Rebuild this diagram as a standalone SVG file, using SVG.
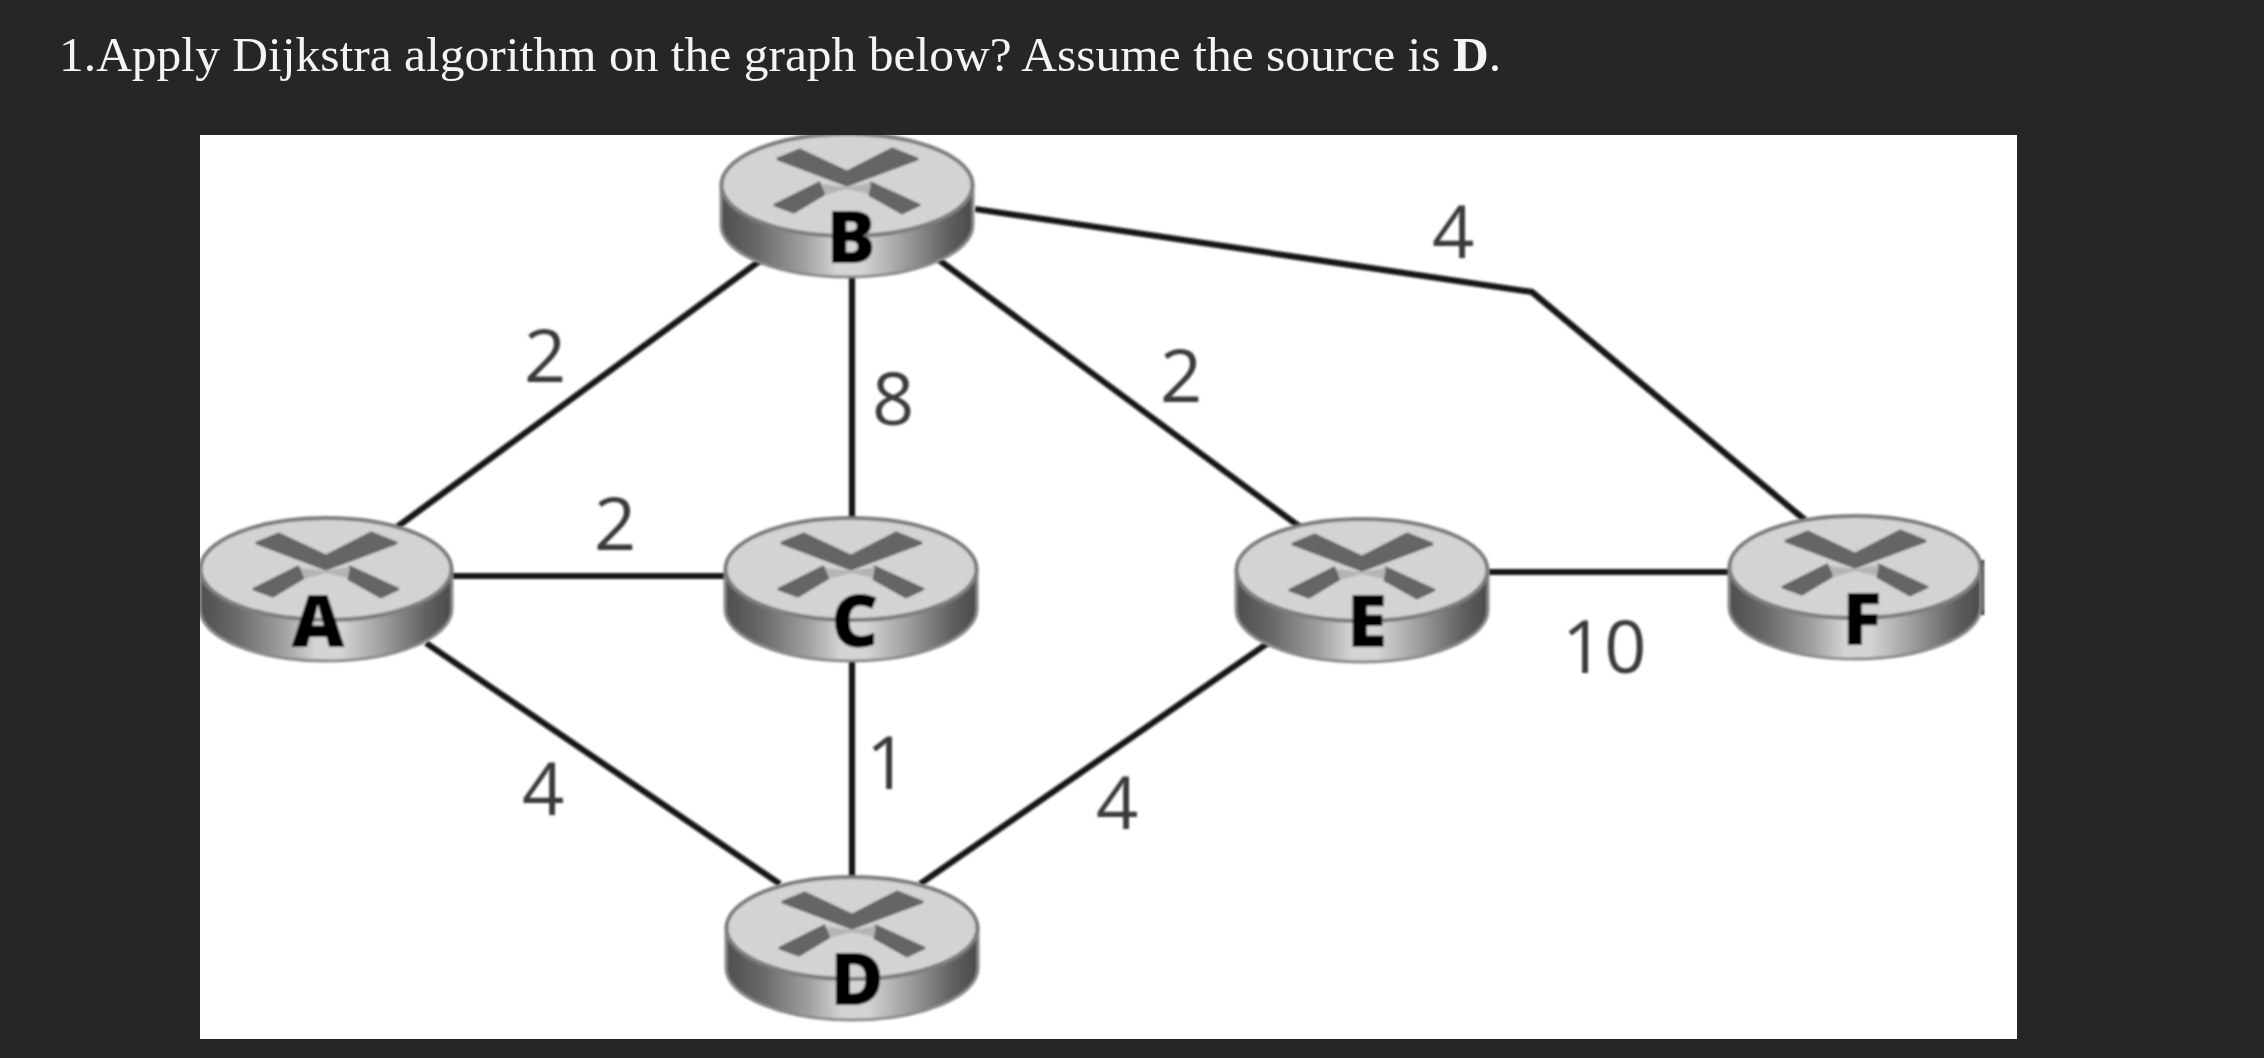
<svg xmlns="http://www.w3.org/2000/svg" width="2264" height="1058" viewBox="0 0 2264 1058">
<style>
.title{font-family:"Liberation Serif",serif;font-size:49.5px;fill:#f4f4f4}
.w{font-family:"Open Sans",sans-serif;font-size:74px;fill:#3a3a3a}
.n{font-family:"Open Sans",sans-serif;font-weight:800;font-size:73px;fill:#000;text-anchor:middle}
.e{fill:none;stroke:#161616;stroke-width:6.2}
</style>
<defs>
<linearGradient id="side" x1="0" x2="1" y1="0" y2="0">
<stop offset="0" stop-color="#4e4e4e"/><stop offset=".15" stop-color="#6a6a6a"/><stop offset=".33" stop-color="#a0a0a0"/><stop offset=".46" stop-color="#d4d4d4"/><stop offset=".56" stop-color="#d4d4d4"/><stop offset=".72" stop-color="#a0a0a0"/><stop offset=".9" stop-color="#606060"/><stop offset="1" stop-color="#4a4a4a"/>
</linearGradient>
<filter id="soft" x="-5%" y="-5%" width="110%" height="110%"><feGaussianBlur stdDeviation="0.8"/></filter>
<clipPath id="panel"><rect x="200" y="135" width="1817" height="904"/></clipPath>
<g id="router">
<path d="M-126 0V40C-126 69-69 92 0 92S126 69 126 40V0Z" fill="url(#side)" stroke="#8a8a8a" stroke-width="3"/>
<ellipse rx="125.5" ry="51" fill="#d3d3d3" stroke="#7e7e7e" stroke-width="4"/>
<g fill="#656565" stroke="#656565" stroke-width="3" stroke-linejoin="round">
<path d="M-69-26-47-35 0-13 45-36 70-26 0 0Z"/>
<path d="M-72 20-28-2-23 9-53 27Z"/>
<path d="M24-2 72 20 55 28 23 10Z"/>
</g>
<path d="M-25-1 0 2 24-2 22 9 0 4-22 10Z" fill="#b4b4b4"/>
</g>
</defs>
<rect width="2264" height="1058" fill="#262626"/>
<text class="title" x="59" y="71">1.Apply Dijkstra algorithm on the graph below? Assume the source is <tspan font-weight="700">D</tspan>.</text>
<rect x="200" y="135" width="1817" height="904" fill="#fff"/>
<g id="connectors" filter="url(#soft)">
<path class="e" d="M397 527 761 260"/>
<path class="e" d="M975 209 1532 292 1805 520"/>
<path class="e" d="M939 260 1300 527"/>
<path class="e" d="M852 270V520"/>
<path class="e" d="M450 576H730"/>
<path class="e" d="M426 643 780 884"/>
<path class="e" d="M852 660V880"/>
<path class="e" d="M920 884 1268 643"/>
<path class="e" d="M1488 572H1730"/>
</g>
<g id="node-A" clip-path="url(#panel)"><g filter="url(#soft)"><use href="#router" x="326" y="569"/><text class="n" x="318" y="647">A</text></g></g>
<g id="node-B" clip-path="url(#panel)"><g filter="url(#soft)"><use href="#router" x="847" y="185"/><text class="n" x="851" y="263">B</text></g></g>
<g id="node-C" filter="url(#soft)"><use href="#router" x="851" y="569"/><text class="n" x="855" y="647">C</text></g>
<g id="node-D" filter="url(#soft)"><use href="#router" x="852" y="928"/><text class="n" x="857" y="1005">D</text></g>
<g id="node-E" filter="url(#soft)"><use href="#router" x="1362" y="570"/><text class="n" x="1367" y="647">E</text></g>
<g id="node-F" filter="url(#soft)"><path d="M1981 560h3v55h-3z" fill="#111"/><use href="#router" x="1855" y="567"/><text class="n" x="1862" y="645">F</text></g>
<g id="labels" filter="url(#soft)">
<text class="w" x="524" y="382">2</text>
<text class="w" x="594" y="550">2</text>
<text class="w" x="522" y="815">4</text>
<text class="w" x="872" y="425">8</text>
<text class="w" x="866" y="789">1</text>
<text class="w" x="1160" y="402">2</text>
<text class="w" x="1096" y="829">4</text>
<text class="w" x="1432" y="258">4</text>
<text class="w" x="1562" y="673">10</text>
</g>
</svg>
